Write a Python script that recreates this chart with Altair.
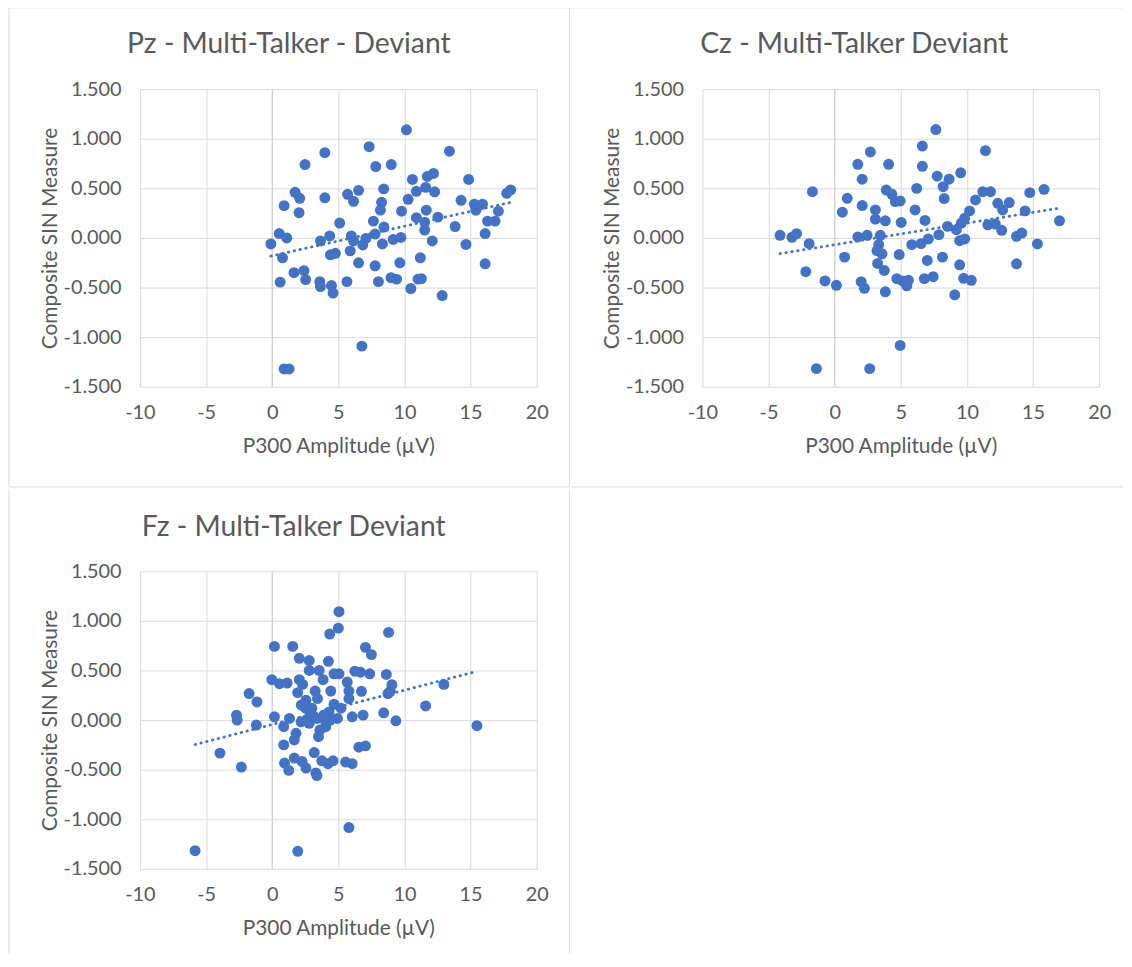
import altair as alt
import pandas as pd

# ---------------- data ----------------
pz_x = [10.15, 3.98, 7.33, 13.4, 2.48, 7.83, 9.0, 10.6, 11.73, 12.2, 14.85, 8.43, 6.53, 5.7, 6.15,
        1.73, 2.08, 3.98, 0.9, 2.03, 5.1, 8.27, 8.18, 7.65, 8.45, 9.78, 10.28, 10.9, 11.6, 12.28,
        11.65, 10.9, 11.53, 12.53, 11.53, 12.1, 13.83, 14.28, 15.28, 15.9, 15.4, 17.1, 16.28, 16.85,
        16.1, 14.65, 17.73, 18.03, -0.1, 0.53, 1.1, 0.78, 3.65, 4.35, 5.98, 6.15, 5.9, 7.08,
        7.78, 6.85, 8.33, 9.15, 9.73, 6.53, 7.78, 9.65, 11.2, 16.1, 1.65, 2.4, 2.53, 0.6, 3.6,
        3.65, 4.48, 4.6, 5.65, 8.03, 8.98, 9.4, 11.03, 11.28, 10.48, 12.85, 6.78, 0.9, 1.28, 4.4,
        4.78]
pz_y = [1.09, 0.86, 0.92, 0.875, 0.74, 0.72, 0.74, 0.59, 0.62, 0.65, 0.59, 0.495, 0.48, 0.44, 0.37,
        0.46, 0.40, 0.405, 0.325, 0.255, 0.15, 0.36, 0.28, 0.17, 0.11, 0.27, 0.39, 0.47, 0.51, 0.465,
        0.28, 0.205, 0.16, 0.21, 0.08, -0.03, 0.115, 0.38, 0.34, 0.34, 0.28, 0.27, 0.17, 0.17,
        0.045, -0.065, 0.45, 0.485, -0.06, 0.045, 0.0, -0.2, -0.03, 0.02, 0.02, -0.03, -0.13, -0.005,
        0.04, -0.07, -0.06, -0.015, 0.005, -0.25, -0.28, -0.25, -0.2, -0.26, -0.35, -0.33, -0.42, -0.445, -0.44,
        -0.49, -0.48, -0.555, -0.44, -0.44, -0.4, -0.415, -0.415, -0.41, -0.51, -0.58, -1.09, -1.32, -1.32, -0.17,
        -0.155]

cz_x = [7.65, 6.63, 2.7, 11.4, 1.75, 4.08, 6.63, 2.08, 7.75, 8.65, 9.53, -1.68, 0.95, 0.58, 2.08,
        3.9, 4.33, 4.58, 4.95, 6.2, 8.2, 8.28, 6.08, 6.83, 3.08, 3.08, 3.83, 5.03, 10.65, 11.2,
        11.78, 12.33, 13.2, 12.7, 10.2, 9.83, 9.58, 11.58, 12.15, 12.63, 14.75, 15.83, 14.4, 17.0,
        13.75, 14.15, 15.33, -4.13, -3.23, -2.88, -1.93, 1.75, 2.45, 3.45, 3.33, 3.2, 3.58, 5.83,
        6.53, 7.08, 7.88, 8.53, 9.2, 9.45, 9.83, 0.75, 4.88, 7.0, 8.15, 9.45, 13.75, -2.18, -0.73,
        0.13, 2.0, 2.25, 3.83, 3.75, 3.25, 4.7, 5.58, 5.45, 5.13, 6.78, 7.45, 9.75, 10.33, 9.08,
        4.95, -1.38, 2.65]
cz_y = [1.093, 0.927, 0.867, 0.88, 0.743, 0.743, 0.723, 0.593, 0.623, 0.593, 0.657, 0.467, 0.40, 0.26, 0.327,
        0.483, 0.44, 0.367, 0.373, 0.50, 0.517, 0.397, 0.283, 0.177, 0.283, 0.19, 0.173, 0.157, 0.383, 0.467,
        0.467, 0.35, 0.357, 0.283, 0.273, 0.20, 0.15, 0.133, 0.14, 0.077, 0.457, 0.49, 0.273, 0.173,
        0.017, 0.05, -0.06, 0.027, 0.007, 0.043, -0.057, 0.01, 0.027, 0.027, -0.067, -0.127, -0.16, -0.067,
        -0.057, -0.01, 0.033, 0.117, 0.083, -0.027, -0.01, -0.193, -0.167, -0.227, -0.193, -0.27, -0.26, -0.34, -0.433,
        -0.477, -0.44, -0.507, -0.543, -0.327, -0.257, -0.41, -0.427, -0.483, -0.433, -0.41, -0.39, -0.407, -0.427, -0.573,
        -1.083, -1.317, -1.317]

fz_x = [5.05, 5.0, 4.35, 8.8, 0.17, 1.55, 7.05, 7.5, 2.05, 2.8, 4.25, 2.8, 3.55, 4.67, 5.05,
        6.25, 6.67, 7.37, 8.63, 2.05, 3.85, -0.03, 0.55, 1.13, 2.3, 5.67, 9.05, 8.93, 8.75, 12.98,
        4.43, 3.25, 1.93, 6.75, 5.8, -1.75, -1.15, 2.55, 3.42, 5.8, 4.67, 11.6, -2.7, 2.55, 4.3,
        6.05, 6.87, 8.43, 0.17, -1.2, 15.48, 9.35, 1.3, 4.93, 3.38, 2.18, -2.65, -3.95, -2.33, 0.87,
        1.8, 1.67, 0.87, 2.8, 3.5, 4.05, 3.18, 0.93, 1.25, 1.67, 2.25, 2.55, 3.38, 3.3, 3.75,
        4.22, 4.6, 5.55, 6.05, 6.55, 7.05, 5.8, -5.83, 1.93, 4.05, 3.0, 3.9, 2.6, 4.4, 5.2,
        2.2, 3.6, 2.9]
fz_y = [1.093, 0.927, 0.867, 0.883, 0.743, 0.743, 0.733, 0.66, 0.623, 0.60, 0.593, 0.50, 0.50, 0.467, 0.467,
        0.493, 0.483, 0.467, 0.46, 0.407, 0.407, 0.407, 0.367, 0.373, 0.36, 0.383, 0.357, 0.29, 0.267, 0.36,
        0.293, 0.293, 0.277, 0.29, 0.293, 0.267, 0.183, 0.20, 0.217, 0.217, 0.16, 0.143, 0.05, 0.117, 0.083,
        0.033, 0.05, 0.073, 0.033, -0.05, -0.057, -0.007, 0.017, 0.017, 0.017, -0.017, 0.0, -0.333, -0.473, -0.067,
        -0.133, -0.2, -0.25, -0.033, -0.167, -0.017, -0.327, -0.433, -0.507, -0.383, -0.417, -0.483, -0.56, -0.533, -0.41,
        -0.44, -0.41, -0.423, -0.44, -0.273, -0.26, -1.083, -1.317, -1.323, -0.067, 0.12, 0.05, 0.0, 0.0, 0.12,
        0.15, -0.1, 0.05]

titles = ["Pz - Multi-Talker - Deviant", "Cz - Multi-Talker Deviant", "Fz - Multi-Talker Deviant"]
x_title = "P300 Amplitude (µV)"
y_title = "Composite SIN Measure"
x_ticks = [-10, -5, 0, 5, 10, 15, 20]
y_ticks = [-1.5, -1.0, -0.5, 0.0, 0.5, 1.0, 1.5]

BLUE = "#4472C4"
GREY_TXT = "#595959"
BORDER = "#d9d9d9"
FONT = "Lato"
ONE = pd.DataFrame({"k": [0]})


def box_rules(segments):
    layers = []
    for (x1, y1, x2, y2) in segments:
        layers.append(
            alt.Chart(ONE).mark_rule(color=BORDER, strokeWidth=1).encode(
                x=alt.value(x1), x2=alt.value(x2), y=alt.value(y1), y2=alt.value(y2)
            )
        )
    return layers


def panel(xs, ys, title, segments, title_x):
    df = pd.DataFrame({"amp": xs, "sin": ys})
    xenc = alt.X("amp:Q", scale=alt.Scale(domain=[-10, 20], nice=False),
                 axis=alt.Axis(values=x_ticks, title=x_title, labelFlush=False,
                               labelExpr="replace(format(datum.value, 'd'), '\u2212', '-')",
                               labelPadding=16, titlePadding=13))
    yenc = alt.Y("sin:Q", scale=alt.Scale(domain=[-1.5, 1.5], nice=False),
                 axis=alt.Axis(values=y_ticks, title=y_title,
                               labelExpr="replace(format(datum.value, '.3f'), '\u2212', '-')",
                               labelFlush=False, labelPadding=19, titlePadding=3))
    base = alt.Chart(df)
    zero = alt.Chart(ONE).mark_rule(color="#cccccc", strokeWidth=1).encode(x=alt.datum(0))
    pts = base.mark_circle(size=122, color=BLUE, opacity=1).encode(x=xenc, y=yenc)
    trend = base.transform_regression("amp", "sin").mark_line(
        color=BLUE, strokeWidth=2.8, strokeDash=[0.5, 5.5], strokeCap="round"
    ).encode(x="amp:Q", y="sin:Q")
    ttl = alt.Chart(ONE).mark_text(
        font=FONT, fontSize=28.5, color=GREY_TXT, align="center", baseline="alphabetic"
    ).encode(x=alt.value(title_x), y=alt.value(-36), text=alt.value(title))
    layers = [zero, pts, trend, ttl] + box_rules(segments)
    return alt.layer(*layers).properties(width=400, height=300)


p1 = panel(pz_x, pz_y, titles[0],
           [(-132, -82, 433, -82), (-132, -82, -132, 401), (433, -82, 433, 401), (-132, 401, 433, 401)], 150)
p2 = panel(cz_x, cz_y, titles[1],
           [(-132, -82, 424, -82), (-132, 401, 424, 401)], 153)
p3 = panel(fz_x, fz_y, titles[2],
           [(-132, -83, -132, 385), (433, -83, 433, 385)], 155)

chart = alt.vconcat(alt.hconcat(p1, p2, spacing=0), p3, spacing=0).properties(
    padding={"top": -5, "left": 0, "right": 0, "bottom": 0}, background="white"
).configure_view(stroke=None).configure_axis(
    grid=True, gridColor=BORDER, gridWidth=1, domain=False, ticks=False,
    labelFont=FONT, labelFontSize=20, labelColor=GREY_TXT,
    titleFont=FONT, titleFontSize=21, titleColor=GREY_TXT, titleFontWeight="normal",
)

chart.save("out.html", embed_options={"renderer": "svg", "actions": False})
